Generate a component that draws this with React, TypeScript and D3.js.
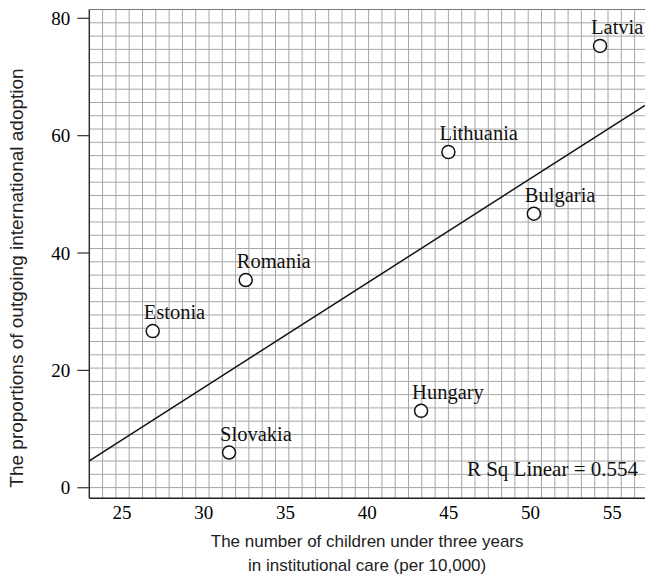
import { scaleLinear, range } from "d3";

const countries = ["Latvia", "Lithuania", "Bulgaria", "Romania", "Estonia", "Slovakia", "Hungary"];
const childrenInCare = [54.25, 44.97, 50.2, 32.57, 26.88, 31.55, 43.3];
const adoptionShare = [75.3, 57.2, 46.7, 35.4, 26.7, 6.0, 13.1];
const xTicks = [25, 30, 35, 40, 45, 50, 55];
const yTicks = [0, 20, 40, 60, 80];
// fit line
const fitSlope = 1.782;
const fitIntercept = -36.4;
const rSqLabel = "R Sq Linear = 0.554";

const W = 645;
const H = 577;
const left = 89.3;
const right = 645;
const top = 9.5;
const bottom = 498.3;
const cell = 13.3;

export default function App() {
  const x = scaleLinear().domain([23, 57]).range([left, right]);
  const y = scaleLinear().domain([-1.8, 81.5]).range([bottom, top]);
  const [x0, x1] = x.domain();

  const vLines = range(left + cell, right, cell);
  const hLines = range(top + cell, bottom - 2, 13.28);

  const serif = "'Liberation Serif', 'Times New Roman', serif";
  const sans = "'Liberation Sans', Arial, sans-serif";

  return (
    <svg
      width={W}
      height={H}
      style={{ position: "absolute", left: 0, top: 0, background: "#fff" }}
    >
      {/* graph paper */}
      <g stroke="#a6a6a6" strokeWidth={1}>
        {vLines.map((v, i) => (
          <line key={"v" + i} x1={v} x2={v} y1={top} y2={bottom} />
        ))}
        {hLines.map((h, i) => (
          <line key={"h" + i} x1={left} x2={right} y1={h} y2={h} />
        ))}
      </g>
      <line x1={left} x2={right} y1={top} y2={top} stroke="#777" strokeWidth={1.2} />

      {/* axes */}
      <line x1={left} x2={left} y1={top} y2={bottom} stroke="#333" strokeWidth={1.5} />
      <line x1={left} x2={right} y1={bottom} y2={bottom} stroke="#222" strokeWidth={1.5} />

      {yTicks.map((t) => (
        <g key={t} transform={`translate(0,${y(t)})`}>
          <line x1={left - 12} x2={left} stroke="#333" strokeWidth={1.2} />
          <text x={left - 19} dy="0.35em" textAnchor="end" fontFamily={serif} fontSize={19}>
            {t}
          </text>
        </g>
      ))}
      {xTicks.map((t) => (
        <text key={t} x={x(t)} y={519} textAnchor="middle" fontFamily={serif} fontSize={19}>
          {t}
        </text>
      ))}

      {/* fit line */}
      <line
        x1={x(x0)}
        y1={y(fitSlope * x0 + fitIntercept)}
        x2={x(x1)}
        y2={y(fitSlope * x1 + fitIntercept)}
        stroke="#111"
        strokeWidth={1.5}
      />

      {/* points */}
      {countries.map((c, i) => {
        const cx = x(childrenInCare[i]);
        const cy = y(adoptionShare[i]);
        return (
          <g key={c}>
            <circle cx={cx} cy={cy} r={6.5} fill="#fff" stroke="#111" strokeWidth={1.5} />
            <text x={cx - 9} y={cy - 12} fontFamily={serif} fontSize={20.5} fill="#111">
              {c}
            </text>
          </g>
        );
      })}

      <text x={638} y={476} textAnchor="end" fontFamily={serif} fontSize={21} fill="#111">
        {rSqLabel}
      </text>

      {/* axis titles */}
      <text
        transform={`translate(23,278) rotate(-90)`}
        textAnchor="middle"
        fontFamily={sans}
        fontSize={19}
        fill="#222"
      >
        The proportions of outgoing international adoption
      </text>
      <text x={(left + right) / 2} y={547} textAnchor="middle" fontFamily={sans} fontSize={17} fill="#222">
        The number of children under three years
      </text>
      <text x={(left + right) / 2} y={571} textAnchor="middle" fontFamily={sans} fontSize={17} fill="#222">
        in institutional care (per 10,000)
      </text>
    </svg>
  );
}
